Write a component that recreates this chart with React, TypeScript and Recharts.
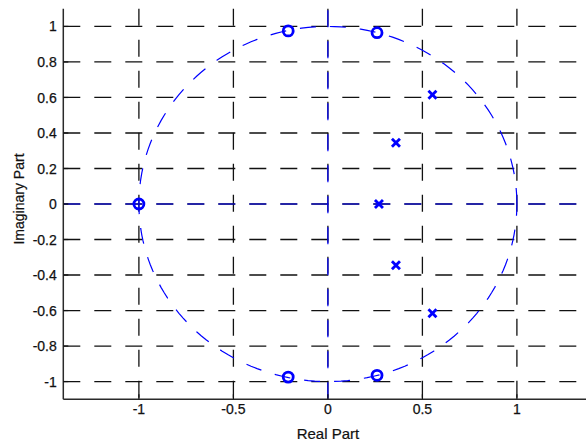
import React from "react";
import {
  ComposedChart,
  XAxis,
  YAxis,
  CartesianGrid,
  Scatter,
  Line,
  ReferenceLine,
} from "recharts";

// Zeros (o) of the transfer function
const zeros = [
  { x: -1.0, y: 0.0 },
  { x: -0.21, y: 0.975 },
  { x: -0.21, y: -0.975 },
  { x: 0.26, y: 0.965 },
  { x: 0.26, y: -0.965 },
];

// Poles (x) of the transfer function
const poles = [
  { x: 0.27, y: 0.0 },
  { x: 0.36, y: 0.345 },
  { x: 0.36, y: -0.345 },
  { x: 0.553, y: 0.615 },
  { x: 0.553, y: -0.615 },
];

const xTicks = [-1, -0.5, 0, 0.5, 1];
const yTicks = [-1, -0.8, -0.6, -0.4, -0.2, 0, 0.2, 0.4, 0.6, 0.8, 1];
const xDomain = [-1.4, 1.4];
const yDomain = [-1.1, 1.1];

// Reference unit circle (geometric guide, not data)
const circleSteps = 180;
const unitCircle = Array.from({ length: circleSteps + 1 }, (_, i) => {
  const t = (i / circleSteps) * 2 * Math.PI;
  return { x: Math.cos(t), y: Math.sin(t) };
});

const BLUE = "#0000ff";
const INK = "#111111";
const FONT = "'Liberation Sans', Arial, Helvetica, sans-serif";
const TICK_LEN = 5;

const BottomTick = (p: any) => {
  const { x, y, payload } = p;
  return (
    <g>
      <line x1={x} x2={x} y1={y} y2={y - TICK_LEN} stroke={INK} strokeWidth={1.2} />
      <text
        x={x}
        y={y + 15}
        textAnchor="middle"
        fontFamily={FONT}
        fontSize={14}
        fill={INK}
        stroke={INK}
        strokeWidth={0.25}
      >
        {String(payload.value)}
      </text>
    </g>
  );
};

const TopTick = (p: any) => {
  const { x, y } = p;
  return <line x1={x} x2={x} y1={y} y2={y + TICK_LEN} stroke={INK} strokeWidth={1.2} />;
};

const LeftTick = (p: any) => {
  const { x, y, payload } = p;
  return (
    <g>
      <line x1={x} x2={x + TICK_LEN} y1={y} y2={y} stroke={INK} strokeWidth={1.2} />
      <text
        x={x - 6.5}
        y={y}
        dy="0.36em"
        textAnchor="end"
        fontFamily={FONT}
        fontSize={14}
        fill={INK}
        stroke={INK}
        strokeWidth={0.25}
      >
        {String(payload.value)}
      </text>
    </g>
  );
};

const YLabel = (p: any) => {
  const vb = p.viewBox || {};
  const cx = 18.5;
  const cy = (vb.y ?? 0) + (vb.height ?? 0) / 2 - 5;
  return (
    <text
      x={cx}
      y={cy}
      transform={`rotate(-90 ${cx} ${cy})`}
      textAnchor="middle"
      dy="0.36em"
      fontFamily={FONT}
      fontSize={14}
      fill={INK}
      stroke={INK}
      strokeWidth={0.2}
    >
      Imaginary Part
    </text>
  );
};

const XLabel = (p: any) => {
  const vb = p.viewBox || {};
  const cx = (vb.x ?? 0) + (vb.width ?? 0) / 2;
  const cy = (vb.y ?? 0) + 34.5;
  return (
    <text
      x={cx}
      y={cy}
      textAnchor="middle"
      dy="0.36em"
      fontFamily={FONT}
      fontSize={15}
      fill={INK}
      stroke={INK}
      strokeWidth={0.2}
    >
      Real Part
    </text>
  );
};

const ZeroShape = (p: any) => (
  <circle cx={p.cx} cy={p.cy} r={5} fill="none" stroke={BLUE} strokeWidth={2.8} />
);

const PoleShape = (p: any) => {
  const s = 4;
  return (
    <g stroke={BLUE} strokeWidth={2.8}>
      <line x1={p.cx - s} y1={p.cy - s} x2={p.cx + s} y2={p.cy + s} />
      <line x1={p.cx - s} y1={p.cy + s} x2={p.cx + s} y2={p.cy - s} />
    </g>
  );
};

export default function App() {
  return (
    <div
      style={{
        position: "absolute",
        left: 0,
        top: 0,
        width: 586,
        height: 442,
        overflow: "hidden",
        background: "#fff",
      }}
    >
      <ComposedChart
        width={600}
        height={442}
        margin={{ top: 8.7, right: 7.5, bottom: 0, left: 0 }}
      >
        <CartesianGrid
          stroke={INK}
          strokeWidth={1.3}
          strokeDasharray="17 14"
          horizontalValues={yTicks}
          verticalValues={xTicks}
        />
        <XAxis
          type="number"
          dataKey="x"
          domain={xDomain}
          ticks={xTicks}
          allowDataOverflow
          height={42.7}
          tickSize={0}
          tickMargin={0}
          tickLine={false}
          axisLine={{ stroke: "#2a2a2a", strokeWidth: 1.5 }}
          tick={<BottomTick />}
          label={{ content: <XLabel /> }}
          interval={0}
        />
        <XAxis
          xAxisId="top"
          orientation="top"
          type="number"
          dataKey="x"
          domain={xDomain}
          ticks={xTicks}
          allowDataOverflow
          height={0}
          tickSize={0}
          tickMargin={0}
          tickLine={false}
          axisLine={{ stroke: "#2a2a2a", strokeWidth: 1.5 }}
          tick={<TopTick />}
          interval={0}
        />
        <YAxis
          type="number"
          dataKey="y"
          domain={yDomain}
          ticks={yTicks}
          allowDataOverflow
          width={63.3}
          tickSize={0}
          tickMargin={0}
          tickLine={false}
          axisLine={{ stroke: "#2a2a2a", strokeWidth: 1.5 }}
          tick={<LeftTick />}
          label={{ content: <YLabel /> }}
          interval={0}
        />
        <ReferenceLine y={0} stroke={BLUE} strokeWidth={1.2} strokeDasharray="17 14" />
        <ReferenceLine x={0} stroke={BLUE} strokeWidth={1.2} strokeDasharray="17 14" />
        <Line
          data={unitCircle}
          dataKey="y"
          type="linear"
          stroke={BLUE}
          strokeWidth={1.2}
          strokeDasharray="16 14"
          dot={false}
          activeDot={false}
          isAnimationActive={false}
        />
        <Scatter data={zeros} dataKey="y" shape={<ZeroShape />} isAnimationActive={false} />
        <Scatter data={poles} dataKey="y" shape={<PoleShape />} isAnimationActive={false} />
      </ComposedChart>
    </div>
  );
}
